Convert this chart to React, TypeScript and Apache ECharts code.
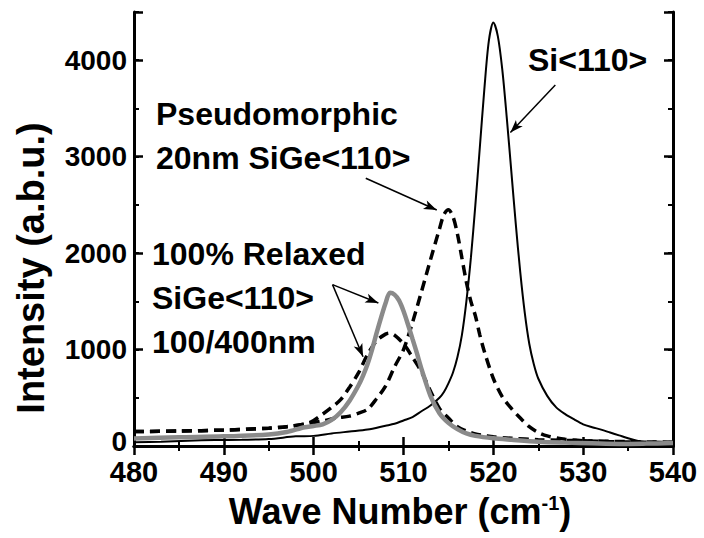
import React, { useEffect, useRef } from "react";
import * as echarts from "echarts";

// ---- data ----
const siWave = [480, 483, 486, 489, 492, 495, 498, 500, 502, 504, 506, 508, 509, 510, 511, 512, 513, 514, 514.5, 515, 515.5, 516, 516.5, 517, 517.5, 518, 518.5, 519, 519.5, 520, 520.5, 521, 521.5, 522, 522.5, 523, 523.5, 524, 524.5, 525, 526, 527, 528, 529, 530, 531, 532, 533, 534, 535, 536, 537, 538, 539, 540];
const siIntensity = [40, 45, 55, 62, 65, 72, 100, 105, 130, 150, 170, 210, 230, 265, 300, 360, 420, 500, 560, 650, 760, 920, 1150, 1500, 1950, 2500, 3100, 3700, 4200, 4390, 4250, 3900, 3400, 2850, 2300, 1800, 1380, 1060, 850, 700, 520, 400, 330, 275, 225, 195, 170, 140, 110, 80, 55, 40, 30, 25, 30];

const pseudoWave = [480, 485, 490, 495, 497, 499.5, 501, 502.5, 504, 505, 506, 507, 508, 509, 510, 511, 512, 513, 514, 514.5, 515, 515.5, 516, 516.5, 517, 517.5, 518, 518.5, 519, 520, 521, 522, 523, 524, 525, 526, 528, 530, 533, 536, 540];
const pseudoIntensity = [150, 155, 165, 185, 200, 235, 260, 290, 310, 340, 380, 490, 620, 820, 1000, 1280, 1600, 1930, 2250, 2400, 2450, 2380, 2200, 1950, 1700, 1500, 1350, 1150, 980, 700, 510, 390, 290, 200, 140, 105, 70, 55, 45, 40, 35];

const relaxed100Wave = [480, 485, 490, 495, 497, 499.5, 501, 502, 503, 504, 505, 506, 507, 508, 508.5, 509, 510, 511, 512, 513, 514, 515, 516, 517, 518, 519, 520, 522, 525, 530, 535, 540];
const relaxed100Intensity = [150, 155, 165, 185, 200, 240, 330, 400, 480, 610, 760, 950, 1090, 1160, 1170, 1150, 1060, 920, 770, 570, 390, 290, 200, 155, 125, 110, 95, 80, 65, 55, 45, 40];

const relaxed400Wave = [480, 485, 490, 495, 497, 499, 500, 501, 502, 503, 504, 505, 505.5, 506, 506.5, 507, 507.5, 508, 508.5, 509, 509.5, 510, 510.5, 511, 511.5, 512, 513, 514, 515, 516, 517, 518, 520, 522, 525, 528, 531, 534, 537, 540];
const relaxed400Intensity = [78, 90, 100, 120, 145, 195, 208, 225, 270, 350, 470, 630, 730, 850, 1000, 1170, 1330, 1480, 1590, 1570, 1510, 1400, 1260, 1110, 960, 800, 520, 340, 240, 175, 130, 105, 80, 65, 45, 35, 28, 22, 25, 30];

const xTicks = { min: 480, max: 540, interval: 10 };
const yTicks = { min: 0, max: 4500, interval: 1000, minor: 500 };

// annotation arrows in data coordinates: [fromX, fromY, toX, toY]
const arrows = [
  [526.9, 3742, 521.9, 3250],
  [505.8, 2776, 513.7, 2447],
  [502.1, 1673, 507.2, 1483],
  [502.1, 1673, 505.5, 926],
];

const labels = [
  { text: "Si<110>", x: 528, y: 60 },
  { text: "Pseudomorphic", x: 156, y: 114 },
  { text: "20nm SiGe<110>", x: 156, y: 158 },
  { text: "100% Relaxed", x: 152, y: 254 },
  { text: "SiGe<110>", x: 152, y: 298 },
  { text: "100/400nm", x: 152, y: 342 },
];

const FONT = "'Liberation Sans', Arial, sans-serif";

const zip = (xs: number[], ys: number[]) => xs.map((x, i) => [x, ys[i]]);

export default function App() {
  const ref = useRef<HTMLDivElement>(null);
  useEffect(() => {
    document.body.style.margin = "0";
    const chart = echarts.init(ref.current!, null, { renderer: "svg" });
    const axisLine = { show: true, lineStyle: { color: "#000", width: 3 } };
    const majorTick = { show: true, inside: true, length: 9, lineStyle: { color: "#000", width: 2.5 } };
    const minorTickAx = { show: true, inside: true, length: 5, lineStyle: { color: "#000", width: 2 } };
    const labelStyle = { fontWeight: "bold", color: "#000", fontFamily: FONT };
    const baseX = { type: "value", min: xTicks.min, max: xTicks.max, interval: xTicks.interval, splitLine: { show: false } };
    const baseY = { type: "value", min: yTicks.min, max: yTicks.max, splitLine: { show: false } };
    const option: any = {
      animation: false,
      backgroundColor: "#fff",
      grid: { left: 134, right: 31, top: 12, bottom: 92, containLabel: false },
      xAxis: [
        {
          ...baseX, position: "bottom", axisLine, axisTick: majorTick,
          minorTick: { show: true, splitNumber: 2, length: 5, lineStyle: { color: "#000", width: 2 } },
          axisLabel: { ...labelStyle, fontSize: 29, margin: 11 },
        },
        {
          ...baseX, position: "top", axisLine, axisTick: majorTick,
          minorTick: { show: true, splitNumber: 2, length: 5, lineStyle: { color: "#000", width: 2 } },
          axisLabel: { show: false },
        },
      ],
      yAxis: [
        {
          ...baseY, interval: yTicks.interval, position: "left", axisLine, axisTick: majorTick,
          axisLabel: {
            ...labelStyle, fontSize: 28, margin: 7,
            formatter: (v: number) => (v === 0 ? "{z|0}" : v % 1000 === 0 ? String(v) : ""),
            rich: { z: { ...labelStyle, fontSize: 28, padding: [0, 0, 9, 0] } },
          },
        },
        {
          ...baseY, interval: yTicks.minor, position: "left", axisLine: { show: false }, axisTick: minorTickAx,
          axisLabel: { show: false },
        },
        {
          ...baseY, interval: yTicks.interval, position: "right", axisLine, axisTick: majorTick,
          axisLabel: { show: false },
        },
        {
          ...baseY, interval: yTicks.minor, position: "right", axisLine: { show: false }, axisTick: minorTickAx,
          axisLabel: { show: false },
        },
      ],
      series: [
        {
          name: "Pseudomorphic 20nm SiGe<110>", type: "line", data: zip(pseudoWave, pseudoIntensity),
          showSymbol: false, smooth: 0.3, lineStyle: { color: "#000", width: 3.5, type: [10, 6] }, z: 2,
        },
        {
          name: "100% Relaxed SiGe<110> 100nm", type: "line", data: zip(relaxed100Wave, relaxed100Intensity),
          showSymbol: false, smooth: 0.3, lineStyle: { color: "#000", width: 3.5, type: [10, 6] }, z: 2,
        },
        {
          name: "Si<110>", type: "line", data: zip(siWave, siIntensity),
          showSymbol: false, smooth: 0.3, lineStyle: { color: "#000", width: 2 }, z: 3,
          markLine: {
            silent: true, animation: false, symbol: ["none", "arrow"], symbolSize: [7, 13],
            label: { show: false }, lineStyle: { color: "#000", width: 1.5, type: "solid" },
            data: arrows.map((a) => [{ coord: [a[0], a[1]] }, { coord: [a[2], a[3]] }]),
          },
        },
        {
          name: "100% Relaxed SiGe<110> 400nm", type: "line", data: zip(relaxed400Wave, relaxed400Intensity),
          showSymbol: false, smooth: 0.3, lineStyle: { color: "#8a8a8a", width: 4.5 }, z: 4,
        },
      ],
      graphic: [
        ...labels.map((l) => ({
          type: "text", x: l.x, y: l.y, z: 10,
          style: { text: l.text, font: `bold 32px ${FONT}`, fill: "#000", textAlign: "left", textVerticalAlign: "middle" },
        })),
        {
          type: "text", x: 31, y: 268, rotation: Math.PI / 2, z: 10,
          style: { text: "Intensity (a.b.u.)", font: `bold 38px ${FONT}`, fill: "#000", textAlign: "center", textVerticalAlign: "middle" },
        },
        {
          type: "text", x: 400, y: 511, z: 10,
          style: {
            text: "{t|Wave Number (cm}{s|-1}{t|)}", fill: "#000", textAlign: "center", textVerticalAlign: "middle",
            rich: {
              t: { font: `bold 36px ${FONT}`, fill: "#000" },
              s: { font: `bold 20px ${FONT}`, fill: "#000", padding: [0, 0, 16, 0] },
            },
          },
        },
      ],
    };
    chart.setOption(option);
    return () => chart.dispose();
  }, []);
  return <div ref={ref} style={{ width: 704, height: 538 }} />;
}
